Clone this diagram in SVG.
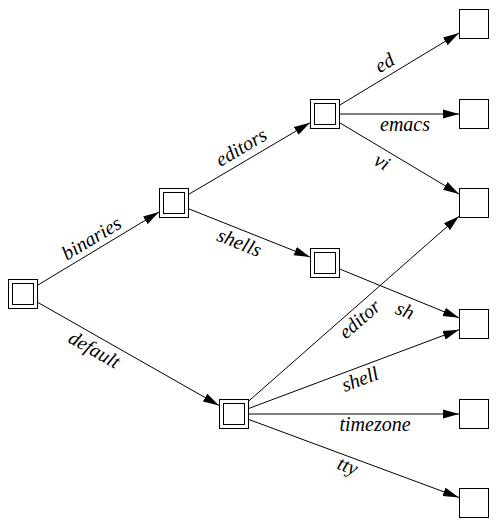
<svg xmlns="http://www.w3.org/2000/svg" width="501" height="531" viewBox="0 0 501 531">
<style>
.box{fill:none;stroke:#000;stroke-width:1}
.e{fill:none;stroke:#000;stroke-width:1;marker-end:url(#arr)}
.l{font-family:"Liberation Serif","Times New Roman",serif;font-style:italic;font-size:20px;text-anchor:middle;fill:#000}
</style>
<defs>
<marker id="arr" markerUnits="userSpaceOnUse" markerWidth="16" markerHeight="10" viewBox="0 -5 16 10" refX="16" refY="0" orient="auto">
<path d="M0,-4.5 L16,0 L0,4.5 z" fill="#000"/>
</marker>
</defs>
<rect width="501" height="531" fill="#fff"/>
<g id="edges">
<line class="e" x1="38" y1="284.96" x2="159" y2="212.04"/>
<line class="e" x1="38" y1="302.53" x2="219" y2="405.47"/>
<line class="e" x1="189" y1="194.16" x2="310" y2="122.84"/>
<line class="e" x1="189" y1="208.96" x2="310" y2="257.04"/>
<line class="e" x1="340" y1="104.94" x2="459" y2="33.06"/>
<line class="e" x1="340" y1="114" x2="459" y2="114"/>
<line class="e" x1="340" y1="122.96" x2="459" y2="194.04"/>
<line class="e" x1="340" y1="269.14" x2="459" y2="317.86"/>
<line class="e" x1="249" y1="400.81" x2="459" y2="216.19"/>
<line class="e" x1="249" y1="408.38" x2="459" y2="329.63"/>
<line class="e" x1="249" y1="414" x2="459" y2="414"/>
<line class="e" x1="249" y1="419.56" x2="459" y2="497.44"/>
</g>
<g id="labels">
<text class="l" transform="translate(98,249) rotate(-31.07)" y="-6">binaries</text>
<text class="l" transform="translate(101,338) rotate(29.63)" y="20">default</text>
<text class="l" transform="translate(248,159) rotate(-30.52)" y="-7">editors</text>
<text class="l" transform="translate(244,231) rotate(21.67)" y="19">shells</text>
<text class="l" transform="translate(391,73.5) rotate(-31.13)" y="-6">ed</text>
<text class="l" x="405" y="131">emacs</text>
<text class="l" transform="translate(388,152) rotate(30.85)" y="18">vi</text>
<text class="l" transform="translate(410,298) rotate(22.26)" y="20">sh</text>
<text class="l" transform="translate(352,310.5) rotate(-41.32)" y="18">editor</text>
<text class="l" transform="translate(356,368.5) rotate(-20.56)" y="18">shell</text>
<text class="l" x="375" y="431">timezone</text>
<text class="l" transform="translate(351,457) rotate(20.35)" y="16">tty</text>
</g>
<g id="root"><rect class="box" x="8.5" y="279.5" width="29" height="29"/><rect class="box" x="12.5" y="283.5" width="21" height="21"/></g>
<g id="binaries"><rect class="box" x="159.5" y="188.5" width="29" height="29"/><rect class="box" x="163.5" y="192.5" width="21" height="21"/></g>
<g id="editors"><rect class="box" x="310.5" y="99.5" width="29" height="29"/><rect class="box" x="314.5" y="103.5" width="21" height="21"/></g>
<g id="shells"><rect class="box" x="310.5" y="248.5" width="29" height="29"/><rect class="box" x="314.5" y="252.5" width="21" height="21"/></g>
<g id="default"><rect class="box" x="219.5" y="399.5" width="29" height="29"/><rect class="box" x="223.5" y="403.5" width="21" height="21"/></g>
<g id="ed"><rect class="box" x="459.5" y="9.5" width="29" height="29"/></g>
<g id="emacs"><rect class="box" x="459.5" y="99.5" width="29" height="29"/></g>
<g id="vi"><rect class="box" x="459.5" y="188.5" width="29" height="29"/></g>
<g id="sh"><rect class="box" x="459.5" y="309.5" width="29" height="29"/></g>
<g id="timezone"><rect class="box" x="459.5" y="399.5" width="29" height="29"/></g>
<g id="tty"><rect class="box" x="459.5" y="488.5" width="29" height="29"/></g>
</svg>
